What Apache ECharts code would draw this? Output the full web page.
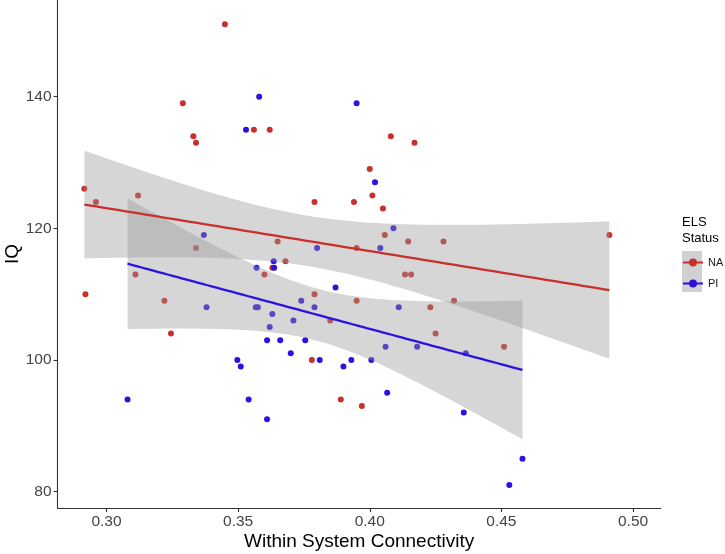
<!DOCTYPE html>
<html>
<head>
<meta charset="utf-8">
<script src="https://cdn.jsdelivr.net/npm/echarts@6/dist/echarts.min.js"></script>
<style>
html,body{margin:0;padding:0;background:#fff;}
#chart{width:725px;height:554px;}
</style>
</head>
<body>
<div id="chart"></div>
<script>
// ---- Data ----
const groups = ['NA', 'PI'];
const naConnectivity = [0.345,0.329,0.333,0.334,0.356,0.362,0.2916,0.296,0.312,0.379,0.394,0.334,0.365,0.395,0.368,0.363,0.311,0.360,0.292,0.322,0.379,0.395,0.385,0.3245,0.378,0.389,0.397,0.4134,0.4157,0.423,0.432,0.425,0.451,0.408,0.417,0.400,0.401,0.405,0.4057,0.4146,0.428,0.491];
const naIQ = [151,139,134,133,135,135,126,124,125,124,124,117,118,117,115,114,113,113,110,109,110,109,106,104,100,94,93,113,113,108,109,104,102,134,133,129,125,123,119,118,118,119];
const piConnectivity = [0.358,0.395,0.353,0.337,0.380,0.3635,0.357,0.3637,0.338,0.3567,0.3575,0.387,0.374,0.379,0.363,0.371,0.362,0.361,0.366,0.3755,0.370,0.3497,0.381,0.393,0.351,0.390,0.308,0.354,0.361,0.411,0.406,0.418,0.4365,0.4006,0.4066,0.4357,0.458,0.453,0.402,0.409,0.404];
const piIQ = [140,139,135,119,117,115,114,114,108,108,108,111,109,108,107,106,105,103,103,103,101,100,100,100,99,99,94,94,91,108,102,102,101,100,95,92,85,81,127,120,117];
const xTicks = [0.30, 0.35, 0.40, 0.45, 0.50];
const yTicks = [80, 100, 120, 140];

const colNA = '#c9302c';
const colPI = '#2b12e0';

// ---- Linear fit with 95% confidence band (as geom_smooth(method = "lm")) ----
function normInv(p){
  const a=[-39.69683028665376,220.9460984245205,-275.9285104469687,138.3577518672690,-30.66479806614716,2.506628277459239];
  const b=[-54.47609879822406,161.5858368580409,-155.6989798598866,66.80131188771972,-13.28068155288572];
  const c=[-0.007784894002430293,-0.3223964580411365,-2.400758277161838,-2.549732539343734,4.374664141464968,2.938163982698783];
  const d=[0.007784695709041462,0.3224671290700398,2.445134137142996,3.754408661907416];
  const pl=0.02425;
  let q,r;
  if(p<pl){q=Math.sqrt(-2*Math.log(p));return (((((c[0]*q+c[1])*q+c[2])*q+c[3])*q+c[4])*q+c[5])/((((d[0]*q+d[1])*q+d[2])*q+d[3])*q+1);}
  if(p>1-pl){q=Math.sqrt(-2*Math.log(1-p));return -(((((c[0]*q+c[1])*q+c[2])*q+c[3])*q+c[4])*q+c[5])/((((d[0]*q+d[1])*q+d[2])*q+d[3])*q+1);}
  q=p-0.5;r=q*q;
  return (((((a[0]*r+a[1])*r+a[2])*r+a[3])*r+a[4])*r+a[5])*q/(((((b[0]*r+b[1])*r+b[2])*r+b[3])*r+b[4])*r+1);
}
function tInv(p, df){
  const z = normInv(p);
  const z3=z*z*z, z5=z3*z*z, z7=z5*z*z;
  return z + (z3+z)/(4*df) + (5*z5+16*z3+3*z)/(96*df*df) + (3*z7+19*z5+17*z3-15*z)/(384*df*df*df);
}
function lmFit(xs, ys){
  const n = xs.length;
  const mx = xs.reduce((s,v)=>s+v,0)/n;
  const my = ys.reduce((s,v)=>s+v,0)/n;
  let sxx=0, sxy=0;
  for(let i=0;i<n;i++){ sxx+=(xs[i]-mx)*(xs[i]-mx); sxy+=(xs[i]-mx)*(ys[i]-my); }
  const b = sxy/sxx, a = my - b*mx;
  let sse=0;
  for(let i=0;i<n;i++){ const e=ys[i]-(a+b*xs[i]); sse+=e*e; }
  const s = Math.sqrt(sse/(n-2));
  const t = tInv(0.975, n-2);
  const x0 = Math.min(...xs), x1 = Math.max(...xs);
  const line=[], upper=[], lower=[];
  const m = 80;
  for(let k=0;k<m;k++){
    const x = x0 + (x1-x0)*k/(m-1);
    const yh = a + b*x;
    const se = s*Math.sqrt(1/n + (x-mx)*(x-mx)/sxx);
    line.push([x,yh]); upper.push([x,yh+t*se]); lower.push([x,yh-t*se]);
  }
  return {line, upper, lower};
}
const fitNA = lmFit(naConnectivity, naIQ);
const fitPI = lmFit(piConnectivity, piIQ);

function bandSeries(name, fit){
  return {
    name: name, type: 'custom', coordinateSystem: 'cartesian2d', silent: true, z: 3,
    data: [[fit.line[0][0], fit.line[0][1]]],
    renderItem: function(params, api){
      const pts = fit.upper.map(p => api.coord(p)).concat(fit.lower.slice().reverse().map(p => api.coord(p)));
      return {type: 'polygon', shape: {points: pts}, style: {fill: 'rgba(153,153,153,0.4)', stroke: null}};
    }
  };
}
function lineSeries(name, fit, color){
  return {
    name: name, type: 'line', data: fit.line, showSymbol: false, symbol: 'circle', symbolSize: 6,
    z: 4, silent: true, lineStyle: {color: color, width: 2.3}, itemStyle: {color: color}
  };
}
function pointSeries(name, xs, ys, color){
  return {
    name: name, type: 'scatter', data: xs.map((x,i)=>[x, ys[i]]), symbolSize: 6, z: 2,
    itemStyle: {color: color, opacity: 1}
  };
}

const chart = echarts.init(document.getElementById('chart'), null, {renderer: 'canvas'});
chart.setOption({
  animation: false,
  backgroundColor: '#fff',
  grid: {left: 57.5, right: 64.3, top: 0, bottom: 46, containLabel: false, outerBoundsMode: 'none'},
  xAxis: {
    type: 'value', min: 0.2814, max: 0.5105,
    name: 'Within System Connectivity', nameLocation: 'middle', nameGap: 24, nameMoveOverlap: false,
    nameTextStyle: {fontFamily: 'Liberation Sans, Arial, sans-serif', fontSize: 19, color: '#000'},
    axisLine: {show: true, onZero: false, lineStyle: {color: '#333', width: 1.1}},
    axisTick: {show: true, length: 4, customValues: xTicks, lineStyle: {color: '#333', width: 1.1}},
    axisLabel: {customValues: xTicks, formatter: v => v.toFixed(2), fontFamily: 'Liberation Sans, Arial, sans-serif', fontSize: 15.5, color: '#444', margin: 6},
    splitLine: {show: false}
  },
  yAxis: {
    type: 'value', min: 77.5, max: 154.7,
    name: 'IQ', nameLocation: 'middle', nameGap: 35, nameMoveOverlap: false,
    nameTextStyle: {fontFamily: 'Liberation Sans, Arial, sans-serif', fontSize: 19, color: '#000'},
    axisLine: {show: true, onZero: false, lineStyle: {color: '#333', width: 1.1}},
    axisTick: {show: true, length: 4, customValues: yTicks, lineStyle: {color: '#333', width: 1.1}},
    axisLabel: {customValues: yTicks, fontFamily: 'Liberation Sans, Arial, sans-serif', fontSize: 15.5, color: '#444', margin: 6},
    splitLine: {show: false}
  },
  legend: {
    data: groups, orient: 'vertical', left: 682, top: 257, padding: 0,
    itemWidth: 20, itemHeight: 10, itemGap: 10, selectedMode: false,
    textStyle: {fontFamily: 'Liberation Sans, Arial, sans-serif', fontSize: 11, color: '#1a1a1a'}
  },
  graphic: [
    {type: 'rect', left: 682, top: 251, z: -1, shape: {width: 20, height: 41}, style: {fill: 'rgba(153,153,153,0.45)'}},
    {type: 'text', left: 682, top: 216, style: {text: 'ELS', fontFamily: 'Liberation Sans, Arial, sans-serif', fontSize: 13, fill: '#000'}},
    {type: 'text', left: 682, top: 232, style: {text: 'Status', fontFamily: 'Liberation Sans, Arial, sans-serif', fontSize: 13, fill: '#000'}}
  ],
  series: [
    lineSeries('NA', fitNA, colNA),
    lineSeries('PI', fitPI, colPI),
    pointSeries('NA', naConnectivity, naIQ, colNA),
    pointSeries('PI', piConnectivity, piIQ, colPI),
    bandSeries('NA band', fitNA),
    bandSeries('PI band', fitPI)
  ]
});
</script>
</body>
</html>
